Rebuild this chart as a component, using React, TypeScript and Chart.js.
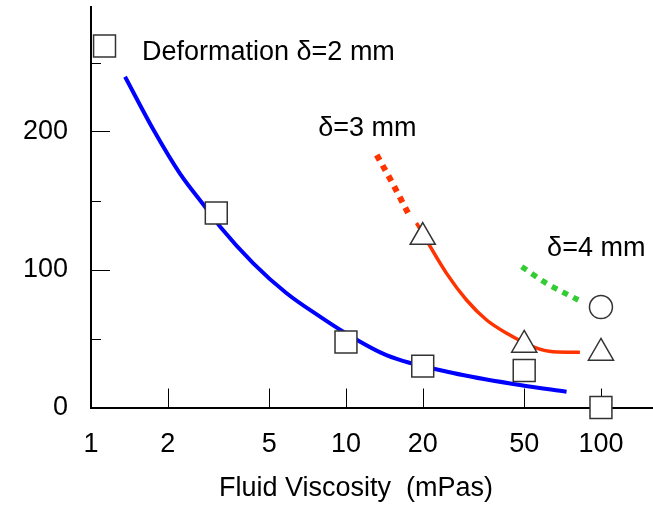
import React, { useEffect, useRef } from "react";
import { Chart, registerables } from "chart.js";

Chart.register(...registerables);

// ---- data ----
const xTickValues = [1, 2, 5, 10, 20, 50, 100];
const yTickValues = [0, 100, 200];
const yMajorTickMarks = [100, 200];
const yMinorTickMarks = [50, 150, 250];
const xTickMarks = [2, 5, 10, 20, 50, 100];

const squareX = [1.13, 3.1, 10, 20, 50, 100];
const squareY = [262, 141, 47.5, 30, 26.8, 0];
const triangleX = [20, 50, 100];
const triangleY = [123.5, 45.3, 39.5];
const circleX = [100];
const circleY = [72.8];

const blueX = [1.36, 1.76, 2.23, 2.8, 3.21, 4.33, 5.85, 7.91, 9.76, 14.4, 26.3, 48.1, 73.3];
const blueY = [239.7, 201.1, 169.7, 145.5, 131, 104.5, 82.8, 65.8, 54.9, 38, 25, 16.3, 11.4];
const redSolidX = [18.9, 24.8, 29.7, 35.6, 42.7, 54.3, 65, 82.7];
const redSolidY = [133.7, 97.2, 77.9, 63.4, 53.8, 44, 40.4, 40];
const redDotX = [13.2, 15.2, 17.5];
const redDotY = [183, 162.7, 141];
const greenDotX = [48.9, 61.2, 81.5];
const greenDotY = [102, 90, 77.9];

const annotationTexts = ["Deformation δ=2 mm", "δ=3 mm", "δ=4 mm"];
const annotationX = [1.585, 7.78, 61.5];
const annotationY = [257.5, 202.5, 115];

const xTitle = "Fluid Viscosity  (mPas)";

const FONT = '"Liberation Sans", Arial, Helvetica, sans-serif';
const FONT_SIZE = 27;

const pts = (xs: number[], ys: number[]) => xs.map((x, i) => ({ x, y: ys[i] }));

const extrasPlugin = {
  id: "extras",
  beforeDatasetsDraw(chart: any) {
    const { ctx } = chart;
    const xs = chart.scales.x;
    const ys = chart.scales.y;
    const bottom = chart.chartArea.bottom;
    const left = chart.chartArea.left;
    ctx.save();
    ctx.strokeStyle = "#000";
    ctx.lineWidth = 1;
    xTickMarks.forEach((v) => {
      const px = Math.round(xs.getPixelForValue(v)) + 0.5;
      ctx.beginPath();
      ctx.moveTo(px, bottom);
      ctx.lineTo(px, bottom - 19);
      ctx.stroke();
    });
    yMajorTickMarks.forEach((v) => {
      const py = Math.round(ys.getPixelForValue(v)) + 0.5;
      ctx.beginPath();
      ctx.moveTo(left, py);
      ctx.lineTo(left + 19, py);
      ctx.stroke();
    });
    yMinorTickMarks.forEach((v) => {
      const py = Math.round(ys.getPixelForValue(v)) + 0.5;
      ctx.beginPath();
      ctx.moveTo(left, py);
      ctx.lineTo(left + 10, py);
      ctx.stroke();
    });
    ctx.restore();
  },
  afterDraw(chart: any) {
    const { ctx } = chart;
    const xs = chart.scales.x;
    const ys = chart.scales.y;
    ctx.save();
    ctx.fillStyle = "#000";
    ctx.font = `${FONT_SIZE}px ${FONT}`;
    ctx.textAlign = "left";
    ctx.textBaseline = "middle";
    annotationTexts.forEach((t, i) => {
      ctx.fillText(t, xs.getPixelForValue(annotationX[i]), ys.getPixelForValue(annotationY[i]));
    });
    ctx.textAlign = "center";
    ctx.textBaseline = "alphabetic";
    ctx.fillText(xTitle, 356, 496);
    ctx.restore();
  },
};

export default function App() {
  const ref = useRef<HTMLCanvasElement | null>(null);
  useEffect(() => {
    document.body.style.margin = "0";
    const canvas = ref.current!;
    const markerStyle = {
      showLine: false,
      backgroundColor: "#ffffff",
      borderColor: "#333333",
      borderWidth: 1.5,
      clip: false as any,
    };
    const lineStyle = {
      showLine: true,
      pointRadius: 0,
      cubicInterpolationMode: "monotone" as const,
      fill: false,
      clip: false as any,
    };
    const chart = new Chart(canvas, {
      type: "scatter",
      data: {
        datasets: [
          { ...markerStyle, data: pts(squareX, squareY), pointStyle: "rect", pointRadius: 15.5 },
          { ...markerStyle, data: pts(triangleX, triangleY), pointStyle: "triangle", pointRadius: 14.5 },
          { ...markerStyle, data: pts(circleX, circleY), pointStyle: "circle", pointRadius: 11.5 },
          { ...lineStyle, data: pts(blueX, blueY), borderColor: "#0000ff", borderWidth: 4 },
          { ...lineStyle, data: pts(redSolidX, redSolidY), borderColor: "#ff3300", borderWidth: 3.5 },
          {
            ...lineStyle,
            data: pts(redDotX, redDotY),
            borderColor: "#ff3300",
            borderWidth: 6,
            borderDash: [6, 6],
            borderCapStyle: "butt",
          },
          {
            ...lineStyle,
            data: pts(greenDotX, greenDotY),
            borderColor: "#33cc33",
            borderWidth: 5.5,
            borderDash: [6, 6],
            borderCapStyle: "butt",
          },
        ],
      },
      options: {
        responsive: false,
        animation: false,
        layout: { autoPadding: false, padding: { top: 7.3, left: 0, right: 0, bottom: 0 } },
        plugins: { legend: { display: false }, tooltip: { enabled: false } },
        elements: { point: { hoverRadius: 0 } },
        scales: {
          x: {
            type: "logarithmic",
            min: 1,
            max: 160,
            afterBuildTicks: (s: any) => {
              s.ticks = xTickValues.map((v) => ({ value: v }));
            },
            afterFit: (s: any) => {
              s.height = 97.5;
              s.paddingLeft = 0;
              s.paddingRight = 0;
            },
            grid: { display: false, drawTicks: false, tickLength: 0 },
            border: { display: true, color: "#000", width: 2 },
            ticks: {
              autoSkip: false,
              maxRotation: 0,
              padding: 20.5,
              color: "#000",
              font: { size: FONT_SIZE, family: FONT },
              callback: (v: any) => String(v),
            },
          },
          y: {
            type: "linear",
            min: 0,
            max: 290,
            afterBuildTicks: (s: any) => {
              s.ticks = yTickValues.map((v) => ({ value: v }));
            },
            afterFit: (s: any) => {
              s.width = 91;
              s.paddingTop = 0;
              s.paddingBottom = 0;
            },
            grid: { display: false, drawTicks: false, tickLength: 0 },
            border: { display: true, color: "#000", width: 2 },
            ticks: {
              padding: 23,
              color: "#000",
              font: { size: FONT_SIZE, family: FONT },
              callback: (v: any) => String(v),
            },
          },
        },
      },
      plugins: [extrasPlugin],
    });
    return () => chart.destroy();
  }, []);
  return (
    <div style={{ width: 653, height: 505 }}>
      <canvas ref={ref} width={653} height={505} style={{ display: "block" }} />
    </div>
  );
}
